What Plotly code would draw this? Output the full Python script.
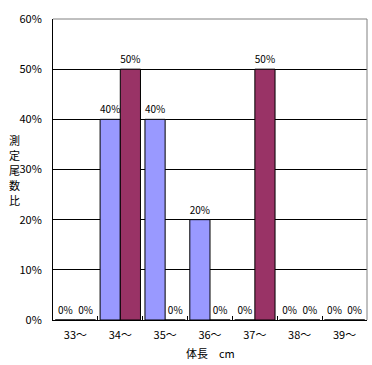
import plotly.graph_objects as go

categories = ["33～", "34～", "35～", "36～", "37～", "38～", "39～"]
series_a = [0.0, 0.4, 0.4, 0.2, 0.0, 0.0, 0.0]
series_b = [0.0, 0.5, 0.0, 0.0, 0.5, 0.0, 0.0]
y_ticks = [0, 0.1, 0.2, 0.3, 0.4, 0.5, 0.6]
y_tick_labels = ["0%", "10%", "20%", "30%", "40%", "50%", "60%"]
y_title_chars = ["測", "定", "尾", "数", "比"]
x_title = "体長　cm"

FONT = "Noto Sans CJK JP, DejaVu Sans, sans-serif"
PLOT_TOP, PLOT_H = 19, 301

def labels(vals):
    return [f"{round(v*100)}%" for v in vals]

fig = go.Figure()
fig.add_trace(go.Bar(x=categories, y=series_a, marker=dict(color="#9999FF", line=dict(color="black", width=1)),
                     text=labels(series_a), textposition="outside", cliponaxis=False,
                     textfont=dict(size=10, color="black", family=FONT), showlegend=False))
fig.add_trace(go.Bar(x=categories, y=series_b, marker=dict(color="#993366", line=dict(color="black", width=1)),
                     text=labels(series_b), textposition="outside", cliponaxis=False,
                     textfont=dict(size=10, color="black", family=FONT), showlegend=False))

fig.update_layout(
    width=372, height=365,
    margin=dict(l=53, r=5, t=PLOT_TOP, b=45, autoexpand=False),
    paper_bgcolor="white", plot_bgcolor="white",
    barmode="group", bargap=0.1, bargroupgap=0.0,
    font=dict(family=FONT, size=10, color="black"),
    uniformtext=dict(minsize=10, mode="show"),
)
fig.update_xaxes(type="category", showline=True, linecolor="black", linewidth=1,
                 ticks="inside", ticklen=4, tickcolor="black", tickson="boundaries",
                 showgrid=False, tickfont=dict(size=11, family=FONT), automargin=False,
                 ticklabelstandoff=5)
fig.update_yaxes(range=[0, 0.6], tickvals=y_ticks, ticktext=y_tick_labels,
                 showline=True, linecolor="black", linewidth=1, automargin=False,
                 showgrid=True, gridcolor="black", gridwidth=1, zeroline=False,
                 ticks="", ticklabelstandoff=8, tickfont=dict(size=11, family=FONT))
fig.add_shape(type="line", xref="paper", yref="paper", x0=0, x1=1, y0=1, y1=1,
              line=dict(color="#808080", width=1), layer="above")
fig.add_shape(type="line", xref="paper", yref="paper", x0=1, x1=1, y0=0, y1=1,
              line=dict(color="#808080", width=1), layer="above")
for i, ch in enumerate(y_title_chars):
    ypix = 140 + 15 * i
    fig.add_annotation(text=ch, xref="paper", yref="paper",
                       x=-0.124, y=1 - (ypix - PLOT_TOP) / PLOT_H, xanchor="center", yanchor="middle",
                       showarrow=False, font=dict(size=11, family=FONT))
fig.add_annotation(text=x_title, xref="paper", yref="paper",
                   x=0.5, y=-0.108, xanchor="center", yanchor="middle", showarrow=False,
                   font=dict(size=11, family=FONT))

fig.write_html("out.html", config={"displayModeBar": False})
with open("out.html", "r", encoding="utf-8") as f:
    html = f.read()
html = html.replace("<head>", "<head><style>html,body{margin:0;padding:0;overflow:hidden}</style>", 1)
with open("out.html", "w", encoding="utf-8") as f:
    f.write(html)
